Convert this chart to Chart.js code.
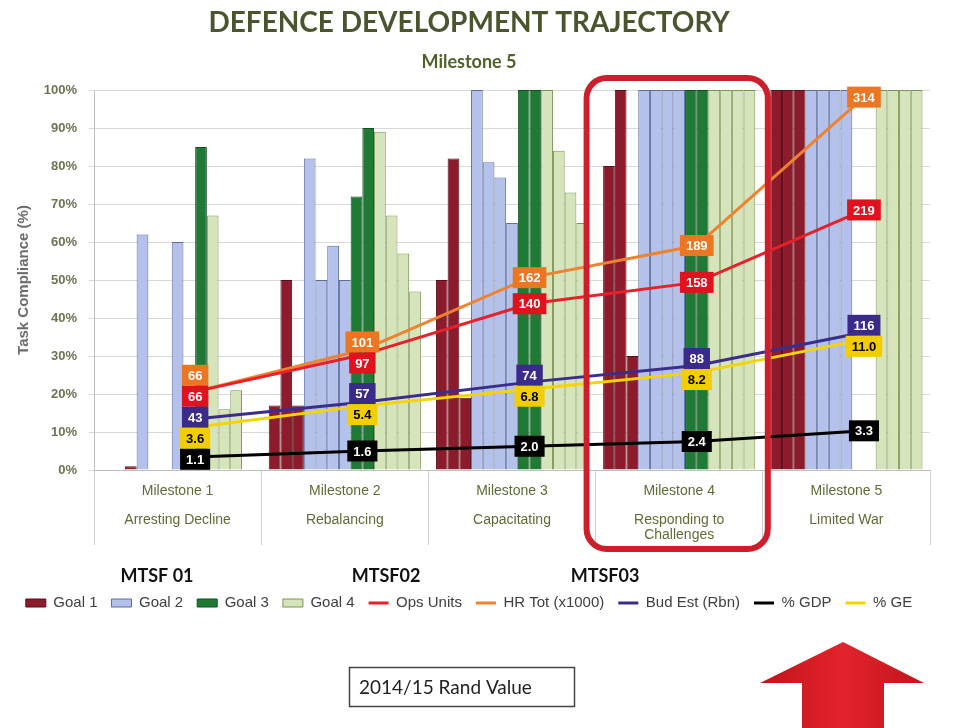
<!DOCTYPE html>
<html>
<head>
<meta charset="utf-8">
<title>Defence Development Trajectory</title>
<script src="https://cdn.jsdelivr.net/npm/chart.js@4/dist/chart.umd.min.js"></script>
<style>
  html, body { margin: 0; padding: 0; background: #fff; }
  #wrap { width: 958px; height: 728px; position: relative; }
</style>
</head>
<body>
<div id="wrap"><canvas id="chart"></canvas></div>
<script>
'use strict';

let canvasElem = document.getElementById('chart');

// milestones on the x axis (blank line keeps the two label levels apart)
let milestoneLabels = [
  ['Milestone 1', '', 'Arresting Decline'],
  ['Milestone 2', '', 'Rebalancing'],
  ['Milestone 3', '', 'Capacitating'],
  ['Milestone 4', '', 'Responding to', 'Challenges'],
  ['Milestone 5', '', 'Limited War']
];

// task compliance (%) for each sub task of a goal, per milestone (null = no bar)
let goal1 = [[null, null, 1], [17, 50, 17], [50, 82, 19], [80, 100, 30], [100, 100, 100]];
let goal2 = [[62, null, null, 60], [82, 50, 59, 50], [100, 81, 77, 65], [100, 100, 100, 100], [100, 100, 100, 100]];
let goal3 = [[null, 85], [72, 90], [100, 100], [100, 100], [null, null]];
let goal4 = [[67, 16, 21, null], [89, 67, 57, 47], [100, 84, 73, 65], [100, 100, 100, 100], [100, 100, 100, 100]];

// trend lines, one value per milestone
let opsUnits = [66, 97, 140, 158, 219];
let hrTot = [66, 101, 162, 189, 314];
let budEst = [43, 57, 74, 88, 116];
let pctGdp = [1.1, 1.6, 2.0, 2.4, 3.3];
let pctGe = [3.6, 5.4, 6.8, 8.2, 11.0];

let mtsfLabels = ['MTSF 01', 'MTSF02', 'MTSF03'];
let randLabel = '2014/15 Rand Value';

Chart.defaults.font.family = "Arial, 'Liberation Sans', sans-serif";

function renderChart() {
  // lines sit over the Goal 3 pair, a little right of the milestone centre
  let lineShift = 0.105;
  let mtsfX = [157, 386, 605];

  let goals = [
    { name: 'Goal 1', values: goal1, fill: '#8c1c2c', border: '#5c0f1a' },
    { name: 'Goal 2', values: goal2, fill: '#b3c1eb', border: '#5e6d9c' },
    { name: 'Goal 3', values: goal3, fill: '#1f7a35', border: '#135020' },
    { name: 'Goal 4', values: goal4, fill: '#d6e4bc', border: '#7c9650' }
  ];

  let lines = [
    { name: 'Ops Units', values: opsUnits, color: '#e8202a', box: '#e0121d', text: '#ffffff', axis: 'yr', digits: 0 },
    { name: 'HR Tot (x1000)', values: hrTot, color: '#f0822e', box: '#ec7622', text: '#ffffff', axis: 'yr', digits: 0 },
    { name: 'Bud Est (Rbn)', values: budEst, color: '#3b2d8c', box: '#3a2a8a', text: '#ffffff', axis: 'yr', digits: 0 },
    { name: '% GDP', values: pctGdp, color: '#000000', box: '#000000', text: '#ffffff', axis: 'yp', digits: 1 },
    { name: '% GE', values: pctGe, color: '#f6d400', box: '#f2cd00', text: '#000000', axis: 'yp', digits: 1 }
  ];

  // one bar dataset per sub task slot
  let chartDatasets = [];
  goals.forEach(goal => {
    let count = goal.values[0].length;
    for (let j = 0; j < count; j++) {
      chartDatasets.push({
        type: 'bar',
        label: goal.name,
        data: goal.values.map((m, i) => ({ x: i, y: m[j] })),
        xAxisID: 'x',
        yAxisID: 'y',
        backgroundColor: goal.fill,
        borderColor: goal.border,
        borderWidth: 1,
        inLegend: j === 0,
        order: 2
      });
    }
  });

  lines.forEach(line => {
    chartDatasets.push({
      type: 'line',
      label: line.name,
      data: line.values.map((v, i) => ({ x: i + lineShift, y: v })),
      xAxisID: 'x',
      yAxisID: line.axis,
      borderColor: line.color,
      backgroundColor: line.color,
      borderWidth: 3,
      pointRadius: 0,
      tension: 0,
      inLegend: true,
      boxColor: line.box,
      textColor: line.text,
      digits: line.digits,
      order: 1
    });
  });

  // value boxes on the lines, pushed apart where they would overlap
  let pointLabels = {
    id: 'pointLabels',
    afterDatasetsDraw(chart) {
      let ctx = chart.ctx;
      let gap = 21;
      ctx.save();
      ctx.font = "bold 13px Arial, 'Liberation Sans', sans-serif";
      ctx.textAlign = 'center';
      ctx.textBaseline = 'middle';
      for (let m = 0; m < milestoneLabels.length; m++) {
        let items = [];
        chart.data.datasets.forEach((ds, di) => {
          if (ds.type !== 'line') return;
          let pt = chart.getDatasetMeta(di).data[m];
          items.push({ di: di, x: pt.x, want: pt.y, text: ds.data[m].y.toFixed(ds.digits), box: ds.boxColor, color: ds.textColor });
        });
        items.sort((a, b) => (a.want - b.want) || (b.di - a.di));
        let groups = items.map(it => ({ items: [it], sum: it.want }));
        let merged = true;
        while (merged) {
          merged = false;
          for (let g = 0; g < groups.length - 1; g++) {
            let a = groups[g], b = groups[g + 1];
            let aBottom = a.sum / a.items.length + a.items.length * gap / 2;
            let bTop = b.sum / b.items.length - b.items.length * gap / 2;
            if (aBottom > bTop) {
              groups.splice(g, 2, { items: a.items.concat(b.items), sum: a.sum + b.sum });
              merged = true;
              break;
            }
          }
        }
        groups.forEach(g => {
          let center = g.sum / g.items.length;
          g.items.forEach((it, k) => {
            let y = center - (g.items.length - 1) * gap / 2 + k * gap;
            let w = ctx.measureText(it.text).width + 12;
            ctx.fillStyle = it.box;
            ctx.fillRect(it.x - w / 2, y - gap / 2, w, gap);
            ctx.fillStyle = it.color;
            ctx.fillText(it.text, it.x, y + 1);
          });
        });
      }
      ctx.restore();
    }
  };

  // highlight frame, MTSF captions, rand value box and arrow
  let extras = {
    id: 'extras',
    afterDraw(chart) {
      let ctx = chart.ctx;
      let area = chart.chartArea;
      let xScale = chart.scales.x;
      let catW = (area.right - area.left) / milestoneLabels.length;
      let cx = xScale.getPixelForValue(3);
      ctx.save();

      ctx.lineWidth = 6;
      ctx.strokeStyle = '#cc1f2b';
      ctx.beginPath();
      ctx.roundRect(cx - catW / 2 - 9, 78, catW + 14, 471, 20);
      ctx.stroke();

      ctx.fillStyle = '#111111';
      ctx.font = "bold 18px Lato, 'Open Sans', sans-serif";
      ctx.textAlign = 'center';
      ctx.textBaseline = 'middle';
      mtsfLabels.forEach((t, i) => ctx.fillText(t, mtsfX[i], 576));

      ctx.lineWidth = 1.5;
      ctx.strokeStyle = '#444444';
      ctx.strokeRect(349.5, 667.5, 225, 39);
      ctx.font = "19px Lato, 'Open Sans', sans-serif";
      ctx.textAlign = 'left';
      ctx.fillStyle = '#222222';
      ctx.fillText(randLabel, 359, 688);

      let grad = ctx.createLinearGradient(760, 0, 924, 0);
      grad.addColorStop(0, '#c0141c');
      grad.addColorStop(0.5, '#e3232b');
      grad.addColorStop(1, '#c0141c');
      ctx.fillStyle = grad;
      ctx.beginPath();
      ctx.moveTo(843, 642);
      ctx.lineTo(924, 683);
      ctx.lineTo(884, 683);
      ctx.lineTo(884, 728);
      ctx.lineTo(802, 728);
      ctx.lineTo(802, 683);
      ctx.lineTo(760, 683);
      ctx.closePath();
      ctx.fill();
      ctx.restore();
    }
  };

  let chartOptions = {
    responsive: true,
    maintainAspectRatio: false,
    animation: false,
    layout: { padding: { left: 8, right: 28, top: 0, bottom: 107.5 } },
    plugins: {
      title: {
        display: true,
        text: 'DEFENCE DEVELOPMENT TRAJECTORY',
        color: '#4a5530',
        font: { family: "Lato, 'Open Sans', sans-serif", size: 28, weight: 'bold' },
        padding: { top: 6, bottom: 4 }
      },
      subtitle: {
        display: true,
        text: 'Milestone 5',
        color: '#4f6228',
        font: { family: "Lato, 'Open Sans', sans-serif", size: 18, weight: 'bold' },
        padding: { top: 7.6, bottom: 17.2 }
      },
      legend: {
        position: 'bottom',
        labels: {
          usePointStyle: true,
          pointStyleWidth: 20,
          boxHeight: 8,
          padding: 14,
          color: '#404040',
          font: { size: 15 },
          generateLabels(chart) {
            let items = [];
            chart.data.datasets.forEach((ds, i) => {
              if (!ds.inLegend) return;
              let isLine = ds.type === 'line';
              items.push({
                text: ds.label,
                fillStyle: ds.backgroundColor,
                strokeStyle: ds.borderColor,
                lineWidth: isLine ? 3 : 1,
                pointStyle: isLine ? 'line' : 'rect',
                fontColor: '#404040',
                hidden: false,
                datasetIndex: i
              });
            });
            return items;
          }
        }
      },
      tooltip: { enabled: false }
    },
    scales: {
      // hidden value axis for milestone index (bars and lines)
      x: {
        type: 'linear',
        display: false,
        offset: false,
        min: -0.5,
        max: 4.5,
        ticks: { stepSize: 1, includeBounds: false },
        grid: { display: false }
      },
      // visible milestone labels and separators
      xm: {
        type: 'category',
        axis: 'x',
        position: 'bottom',
        labels: milestoneLabels,
        offset: true,
        grid: { display: true, offset: true, drawOnChartArea: false, tickLength: 75, color: '#cfcfcf' },
        border: { color: '#bfbfbf' },
        ticks: {
          padding: -61.3,
          maxRotation: 0,
          autoSkip: false,
          color: '#5e6b34',
          font: { size: 14, lineHeight: 1.04 }
        },
        afterFit(scale) { scale.height = 111.5; }
      },
      y: {
        min: 0,
        max: 100,
        ticks: {
          stepSize: 10,
          padding: 12,
          color: '#6d7452',
          font: { size: 13, weight: 'bold' },
          callback: v => v + '%'
        },
        grid: { color: '#d9d9d9', tickLength: 5 },
        border: { color: '#bfbfbf' },
        title: {
          display: true,
          text: 'Task Compliance (%)',
          color: '#6b6b6b',
          font: { size: 15, weight: 'bold' },
          padding: { top: 7, bottom: 0 }
        },
        afterFit(scale) { scale.width = 86; }
      },
      yr: { type: 'linear', axis: 'y', display: false, min: 0, max: 320 },
      yp: { type: 'linear', axis: 'y', display: false, min: 0, max: 32 }
    },
    datasets: {
      bar: { barPercentage: 1, categoryPercentage: 0.91 }
    }
  };

  let chartConfig = {
    type: 'bar',
    data: {
      datasets: chartDatasets
    },
    options: chartOptions,
    plugins: [pointLabels, extras]
  };

  new Chart(canvasElem, chartConfig);
}

renderChart();
</script>
</body>
</html>
